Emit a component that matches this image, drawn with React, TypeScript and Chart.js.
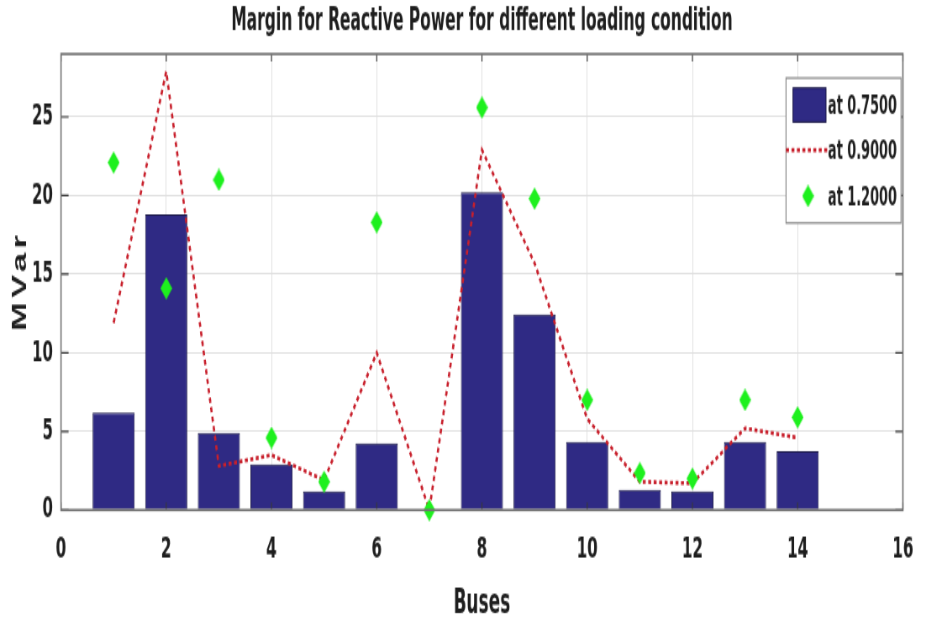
import React, { useEffect, useRef } from 'react';
import { Chart, registerables } from 'chart.js';

Chart.register(...registerables);

// ---- data ----
const buses = [1, 2, 3, 4, 5, 6, 7, 8, 9, 10, 11, 12, 13, 14];
const load075 = [6.2, 18.8, 4.9, 2.9, 1.2, 4.25, 0, 20.2, 12.45, 4.35, 1.3, 1.2, 4.35, 3.75];
const load090 = [11.9, 27.9, 2.8, 3.5, 1.9, 10.0, 0, 22.9, 15.7, 5.8, 1.8, 1.7, 5.2, 4.6];
const load120 = [22.1, 14.1, 21.0, 4.6, 1.8, 18.3, 0, 25.6, 19.8, 7.0, 2.35, 2.0, 7.0, 5.9];
const seriesLabels = ['at 0.7500', 'at 0.9000', 'at 1.2000'];
const xMin = 0;
const xMax = 16;
const xStep = 2;
const yMin = 0;
const yMax = 29;
const yStep = 5;
const titleText = 'Margin for Reactive Power for different loading condition';
const xTitle = 'Buses';
const yTitle = 'MVar';

// ---- styling ----
const W_OUT = 926;
const H_OUT = 622;
const W_IN = 1102;
const H_IN = 415;
const SX = W_OUT / W_IN;
const SY = H_OUT / H_IN;
const ix = (v: number) => v / SX; // reference px -> internal px (x)
const iy = (v: number) => v / SY; // reference px -> internal px (y)
const NARROW = '"Liberation Sans Narrow", "Arial Narrow", "DejaVu Sans Condensed", sans-serif';
const WIDE = '"Liberation Sans", Arial, sans-serif';
const BAR_COLOR = '#2f2a84';
const BAR_EDGE = '#1a1846';
const LINE_COLOR = '#c8202c';
const GREEN = '#1ef01e';
const TEXT = '#1e1e1e';

function makeDiamond(w: number, h: number, color: string) {
  const c = document.createElement('canvas');
  c.width = w;
  c.height = h;
  const g = c.getContext('2d')!;
  g.fillStyle = color;
  g.beginPath();
  g.moveTo(w / 2, 0);
  g.lineTo(w, h / 2);
  g.lineTo(w / 2, h);
  g.lineTo(0, h / 2);
  g.closePath();
  g.fill();
  return c;
}

const framePlugin = {
  id: 'frameAndLegend',
  afterDraw(chart: any) {
    const { ctx, chartArea } = chart;
    const { left, right, top, bottom } = chartArea;
    const xs = chart.scales.x;
    const ys = chart.scales.y;
    ctx.save();
    // tick marks (inside)
    ctx.strokeStyle = '#3a3a3a';
    ctx.lineWidth = 1.2;
    xs.ticks.forEach((t: any) => {
      const px = xs.getPixelForValue(t.value);
      ctx.beginPath();
      ctx.moveTo(px, bottom);
      ctx.lineTo(px, bottom - 5);
      ctx.moveTo(px, top);
      ctx.lineTo(px, top + 5);
      ctx.stroke();
    });
    ys.ticks.forEach((t: any) => {
      const py = ys.getPixelForValue(t.value);
      ctx.beginPath();
      ctx.moveTo(left, py);
      ctx.lineTo(left + 9, py);
      ctx.moveTo(right, py);
      ctx.lineTo(right - 9, py);
      ctx.stroke();
    });
    // frame
    ctx.strokeStyle = '#707070';
    ctx.lineWidth = 1.6;
    ctx.strokeRect(left, top, right - left, bottom - top);

    // chart title (centred over the plot area)
    ctx.fillStyle = TEXT;
    ctx.font = `bold 20.5px ${NARROW}`;
    ctx.textAlign = 'center';
    ctx.textBaseline = 'alphabetic';
    ctx.fillText(titleText, (left + right) / 2, iy(30.5));

    // y-axis title
    ctx.save();
    ctx.translate(ix(20.5), iy(283));
    ctx.rotate(-Math.PI / 2);
    ctx.font = `bold 23px ${WIDE}`;
    (ctx as any).letterSpacing = '3px';
    ctx.textAlign = 'center';
    ctx.textBaseline = 'middle';
    ctx.fillText(yTitle, 1.5, 0);
    ctx.restore();

    // legend
    const ds = chart.data.datasets;
    const bx = ix(786), by = iy(78), bw = ix(115), bh = iy(145);
    ctx.fillStyle = '#ffffff';
    ctx.fillRect(bx, by, bw, bh);
    ctx.strokeStyle = '#8a8a8a';
    ctx.lineWidth = 1.2;
    ctx.strokeRect(bx, by, bw, bh);
    ctx.font = `bold 17px ${NARROW}`;
    ctx.fillStyle = TEXT;
    ctx.textBaseline = 'middle';
    ctx.textAlign = 'left';
    const barDs = ds.find((d: any) => d.type === 'bar');
    const lineDs = ds.find((d: any) => d.type === 'line' && d.showLine !== false);
    const ptDs = ds.find((d: any) => d.showLine === false);
    const textX = ix(828);
    // bar entry
    ctx.fillStyle = barDs.backgroundColor;
    ctx.fillRect(ix(793), iy(88), ix(33), iy(34));
    ctx.strokeStyle = barDs.borderColor;
    ctx.lineWidth = 1;
    ctx.strokeRect(ix(793), iy(88), ix(33), iy(34));
    ctx.fillStyle = TEXT;
    ctx.fillText(barDs.label, textX, iy(108));
    // line entry
    ctx.strokeStyle = lineDs.borderColor;
    ctx.lineWidth = lineDs.borderWidth;
    ctx.setLineDash(lineDs.borderDash);
    ctx.beginPath();
    ctx.moveTo(ix(786), iy(150));
    ctx.lineTo(textX, iy(150));
    ctx.stroke();
    ctx.setLineDash([]);
    ctx.fillText(lineDs.label, textX, iy(152));
    // point entry
    const img = ptDs.pointStyle as HTMLCanvasElement;
    ctx.drawImage(img, ix(808) - img.width / 2, iy(196) - img.height / 2);
    ctx.fillText(ptDs.label, textX, iy(199));
    ctx.restore();
  },
};

export default function App() {
  const ref = useRef<HTMLCanvasElement | null>(null);
  useEffect(() => {
    if (!ref.current) return;
    const diamond = makeDiamond(14, 15, GREEN);
    const chart = new Chart(ref.current, {
      type: 'bar',
      data: {
        datasets: [
          {
            type: 'line',
            label: seriesLabels[2],
            data: buses.map((b, i) => ({ x: b, y: load120[i] })),
            showLine: false,
            pointStyle: diamond as any,
            pointRadius: 7,
            backgroundColor: GREEN,
            borderColor: GREEN,
            clip: false as any,
            order: 1,
          } as any,
          {
            type: 'line',
            label: seriesLabels[1],
            data: buses.map((b, i) => ({ x: b, y: load090[i] })),
            borderColor: LINE_COLOR,
            borderWidth: 2.6,
            borderDash: [3.5, 3],
            pointRadius: 0,
            fill: false,
            tension: 0,
            order: 2,
          } as any,
          {
            type: 'bar',
            label: seriesLabels[0],
            data: buses.map((b, i) => ({ x: b, y: load075[i] })),
            backgroundColor: BAR_COLOR,
            borderColor: BAR_EDGE,
            borderWidth: 1,
            barPercentage: 0.8,
            categoryPercentage: 1,
            order: 3,
          } as any,
        ],
      },
      options: {
        responsive: false,
        maintainAspectRatio: false,
        animation: false,
        devicePixelRatio: 1,
        layout: { padding: { left: 0, right: ix(926 - 909), top: iy(54), bottom: 0 } },
        plugins: {
          legend: { display: false },
          tooltip: { enabled: false },
          title: { display: false },
        },
        scales: {
          x: {
            type: 'linear',
            min: xMin,
            max: xMax,
            offset: false,
            afterFit: (s: any) => {
              s.height = H_IN - iy(510);
            },
            ticks: {
              stepSize: xStep,
              padding: 15,
              color: TEXT,
              font: { family: NARROW, size: 20, weight: 'bold', lineHeight: 1.2 },
              maxRotation: 0,
            },
            grid: { color: '#e0e0e0', lineWidth: 1, drawTicks: false, offset: false },
            border: { display: false },
            title: {
              display: true,
              text: xTitle,
              color: TEXT,
              font: { family: NARROW, size: 22.5, weight: 'bold', lineHeight: 24 / 22.5 },
              padding: { top: 0, bottom: 0 },
            },
          },
          y: {
            type: 'linear',
            min: yMin,
            max: yMax,
            afterFit: (s: any) => {
              s.width = ix(61);
            },
            ticks: {
              stepSize: yStep,
              includeBounds: false,
              padding: ix(61) - ix(53),
              color: TEXT,
              font: { family: NARROW, size: 20, weight: 'bold', lineHeight: 1.2 },
            },
            grid: { color: '#e0e0e0', lineWidth: 1, drawTicks: false },
            border: { display: false },
            title: { display: false, text: yTitle },
          },
        },
      } as any,
      plugins: [framePlugin],
    });
    return () => chart.destroy();
  }, []);

  return (
    <div
      style={{
        position: 'absolute',
        left: 0,
        top: 0,
        width: W_OUT,
        height: H_OUT,
        overflow: 'hidden',
        background: '#ffffff',
      }}
    >
      <canvas
        ref={ref}
        width={W_IN}
        height={H_IN}
        style={{
          display: 'block',
          width: W_IN + 'px',
          height: H_IN + 'px',
          transform: `scale(${SX}, ${SY})`,
          transformOrigin: '0 0',
        }}
      />
    </div>
  );
}
